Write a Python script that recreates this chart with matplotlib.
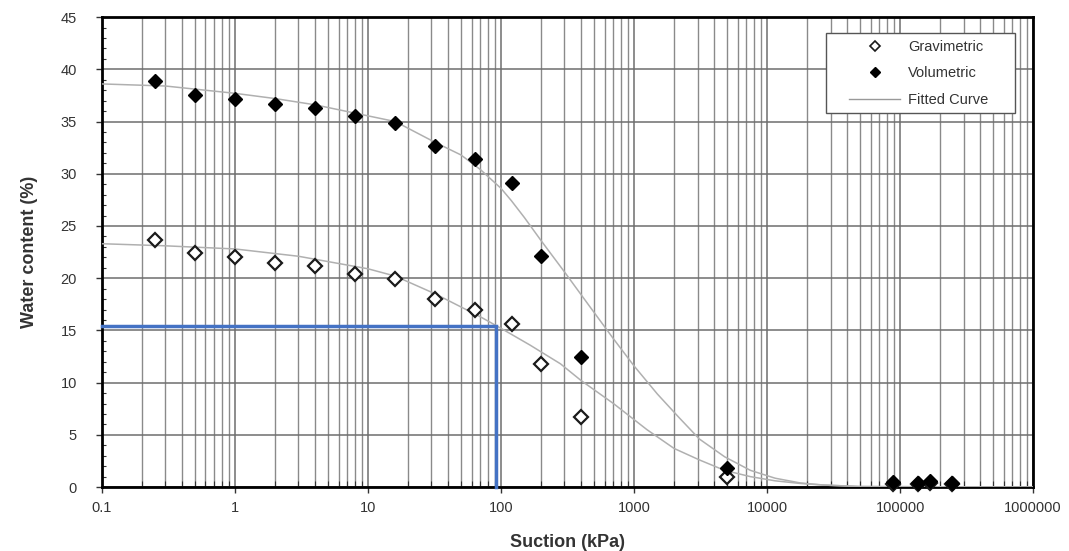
import matplotlib
matplotlib.use("Agg")
import matplotlib.pyplot as plt
from matplotlib.ticker import LogLocator, FixedLocator, MultipleLocator, NullFormatter, FixedFormatter
from matplotlib.lines import Line2D
from matplotlib.patches import Rectangle

plt.rcParams['font.family'] = ['Liberation Sans', 'DejaVu Sans']

# Measured data
suction = [0.25, 0.5, 1, 2, 4, 8, 16, 32, 64, 120, 200, 400, 5000, 88000, 136000, 168000, 244000]
volumetric = [38.9, 37.5, 37.2, 36.7, 36.3, 35.5, 34.9, 32.7, 31.4, 29.1, 22.1, 12.5, 1.8, 0.5, 0.4, 0.6, 0.4]
gravimetric = [23.7, 22.4, 22.0, 21.5, 21.2, 20.4, 19.9, 18.0, 17.0, 15.6, 11.8, 6.7, 1.0, 0.3, 0.3, 0.4, 0.3]

# Fitted curves
fit_vol_x = [0.1, 0.3, 1, 2, 4, 8, 16, 32, 50, 70, 100, 120, 150, 200, 300, 470, 700, 1000,
             1500, 2200, 3100, 4800, 7500, 11500, 17700, 26300, 50000, 1000000]
fit_vol_y = [38.6, 38.4, 37.7, 37.2, 36.6, 35.8, 35.0, 33.0, 31.8, 30.4, 28.6, 27.4, 25.8, 23.6,
             20.6, 17.2, 14.2, 11.6, 8.9, 6.6, 4.6, 2.9, 1.6, 0.85, 0.4, 0.2, 0.05, 0.0]
fit_grav_x = [0.1, 0.3, 1, 3, 10, 16, 32, 70, 100, 165, 280, 400, 700, 1250, 2000, 3100, 4800,
              7500, 11500, 17700, 26000, 50000, 1000000]
fit_grav_y = [23.3, 23.1, 22.8, 22.1, 20.9, 20.2, 18.5, 16.3, 15.2, 13.6, 11.8, 10.2, 8.0, 5.5,
              3.7, 2.6, 1.6, 1.0, 0.6, 0.35, 0.2, 0.05, 0.0]

# Blue reference line
ref_suction = 92
ref_water = 15.4

x_ticks = [0.1, 1, 10, 100, 1000, 10000, 100000, 1000000]
x_labels = ['0.1', '1', '10', '100', '1000', '10000', '100000', '1000000']
y_ticks = [0, 5, 10, 15, 20, 25, 30, 35, 40, 45]
legend_labels = ['Gravimetric', 'Volumetric', 'Fitted Curve']

W, H = 1069, 551
fig = plt.figure(figsize=(W / 100, H / 100), dpi=100)
ax = fig.add_axes([0.0954, 0.116, 0.871, 0.853])
ax.set_xscale('log')
ax.set_xlim(0.1, 1e6)
ax.set_ylim(0, 45)

ax.xaxis.set_major_locator(FixedLocator(x_ticks))
ax.xaxis.set_major_formatter(FixedFormatter(x_labels))
ax.xaxis.set_minor_locator(LogLocator(base=10, subs=range(2, 10), numticks=100))
ax.xaxis.set_minor_formatter(NullFormatter())
ax.yaxis.set_major_locator(FixedLocator(y_ticks))
ax.yaxis.set_minor_locator(MultipleLocator(1))

ax.grid(True, which='major', axis='both', color='#6e6e6e', lw=1.1)
ax.grid(True, which='minor', axis='x', color='#8a8a8a', lw=1.0)
ax.set_axisbelow(True)

ax.tick_params(axis='both', which='major', direction='out', length=4, width=1, labelsize=10.5,
               colors='#333333')
ax.tick_params(axis='y', which='major', pad=14)
ax.tick_params(axis='x', which='major', pad=6)
ax.tick_params(axis='y', which='minor', direction='in', length=3, width=0.8, color='#333333')
ax.tick_params(axis='x', which='minor', direction='in', length=4, width=0.8, color='#333333')
for s in ax.spines.values():
    s.set_linewidth(2)
    s.set_color('black')

ax.plot(fit_vol_x, fit_vol_y, color='#b0b0b0', lw=1.1, zorder=3)
ax.plot(fit_grav_x, fit_grav_y, color='#b0b0b0', lw=1.1, zorder=3)

ax.plot([0.1, ref_suction, ref_suction], [ref_water, ref_water, 0], color='#4472C4', lw=2.5,
        zorder=4, solid_joinstyle='miter', clip_on=False)

ax.plot(suction, gravimetric, ls='none', marker='D', ms=7.5, mfc='white', mec='#1a1a1a', mew=1.6,
        zorder=5, clip_on=False)
ax.plot(suction, volumetric, ls='none', marker='D', ms=7.5, mfc='black', mec='black', mew=1,
        zorder=5, clip_on=False)

ax.set_xlabel('Suction (kPa)', fontsize=13, fontweight='bold', color='#333333', labelpad=14)
ax.set_ylabel('Water content (%)', fontsize=13, fontweight='bold', color='#333333', labelpad=16)

# Legend frame drawn as a separate box
box = Rectangle((826 / W, 1 - 113 / H), 189 / W, 80 / H, transform=fig.transFigure,
                facecolor='white', edgecolor='#555555', lw=1, zorder=2)
fig.add_artist(box)

handles = [
    Line2D([], [], ls='none', marker='D', ms=5, mfc='white', mec='#1a1a1a', mew=1.2),
    Line2D([], [], ls='none', marker='D', ms=5, mfc='black', mec='black'),
    Line2D([], [], color='#999999', lw=1),
]
leg = fig.legend(handles, legend_labels, loc='upper left',
                 bbox_to_anchor=(849 / W, 1 - 40 / H), fontsize=10.5, frameon=False,
                 borderpad=0, borderaxespad=0, labelspacing=0.85, handlelength=3.5,
                 handletextpad=0.55)
leg.set_zorder(3)
for t in leg.get_texts():
    t.set_color('#333333')

fig.savefig('out.png', dpi=100, facecolor='white')
